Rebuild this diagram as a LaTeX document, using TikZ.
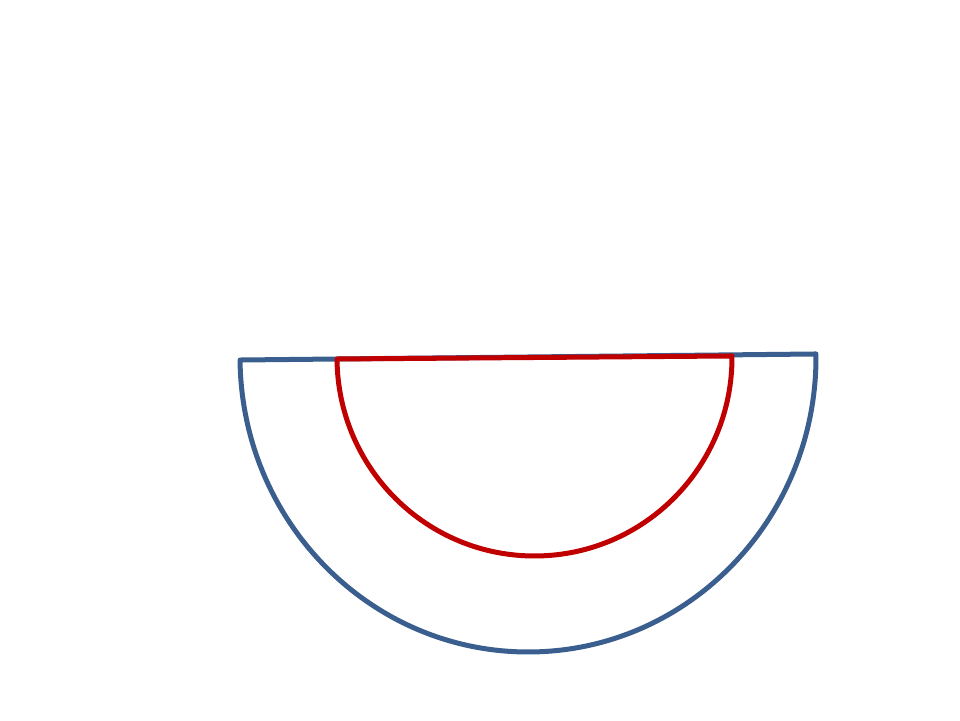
\documentclass[tikz,border=0pt]{standalone}
\usepackage{tikz}

\definecolor{outerblue}{HTML}{3A5F8E}
\definecolor{innerred}{HTML}{C00000}

\tikzset{
  halfdisc/.style={line width=5pt, line join=round}
}

\begin{document}
\begin{tikzpicture}[x=1pt,y=1pt]

\useasboundingbox (0,0) rectangle (960,720);

% outer half circle
\begin{scope}[rotate around={0.6:(528,363)}]
\draw[halfdisc,outerblue] (240,363) arc[start angle=180,end angle=360,x radius=288,y radius=295] -- cycle;
\end{scope}

% inner half circle
\begin{scope}[rotate around={0.44:(534.5,362.5)}]
\draw[halfdisc,innerred] (337,362.5) arc[start angle=180,end angle=360,x radius=197.5,y radius=198.5] -- cycle;
\end{scope}

\end{tikzpicture}
\end{document}
